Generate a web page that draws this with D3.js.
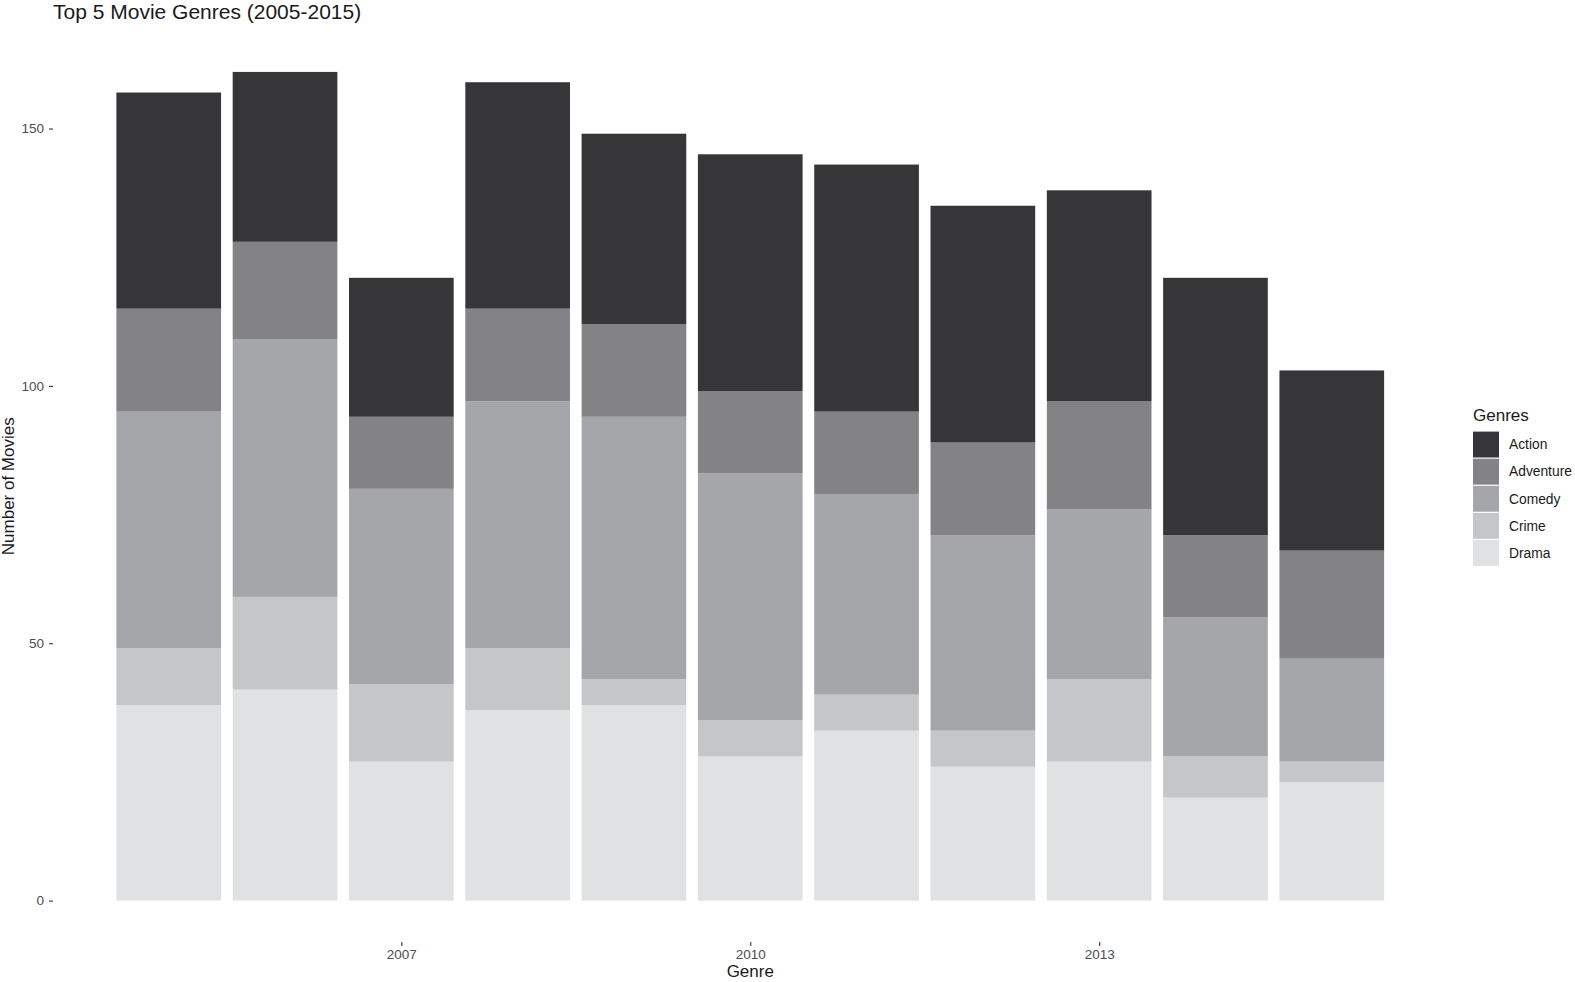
<!DOCTYPE html>
<html>
<head>
<meta charset="utf-8">
<script src="https://cdn.jsdelivr.net/npm/d3@7"></script>
<style>
  html, body { margin: 0; padding: 0; background: #fff; }
  svg { display: block; font-family: "Liberation Sans", Arial, Helvetica, sans-serif; }
</style>
</head>
<body>
<svg id="chart" width="1575" height="982"></svg>
<script>
// ---- data ----
const years = [2005, 2006, 2007, 2008, 2009, 2010, 2011, 2012, 2013, 2014, 2015];
const genres = ["Action", "Adventure", "Comedy", "Crime", "Drama"];
const drama     = [38, 41, 27, 37, 38, 28, 33, 26, 27, 20, 23];
const crime     = [11, 18, 15, 12,  5,  7,  7,  7, 16,  8,  4];
const comedy    = [46, 50, 38, 48, 51, 48, 39, 38, 33, 27, 20];
const adventure = [20, 19, 14, 18, 18, 16, 16, 18, 21, 16, 21];
const action    = [42, 33, 27, 44, 37, 46, 48, 46, 41, 50, 35];
const xTicks = [2007, 2010, 2013];
const yTicks = [0, 50, 100, 150];
const colors = ["#363537", "#838386", "#a5a6a9", "#c5c6c8", "#e0e1e3"];

// ---- build table ----
const table = years.map((y, i) => ({
  year: y, Action: action[i], Adventure: adventure[i], Comedy: comedy[i], Crime: crime[i], Drama: drama[i]
}));
// stack order: Drama at bottom, Action on top
const stackKeys = ["Drama", "Crime", "Comedy", "Adventure", "Action"];
const series = d3.stack().keys(stackKeys)(table);

const svg = d3.select("#chart");
const color = d3.scaleOrdinal().domain(genres).range(colors);

// panel geometry (ggplot-like expansion)
const panelLeft = 53, panelRight = 1447.5, panelTop = 30.5, panelBottom = 942;
const maxTotal = d3.max(table, d => d3.sum(stackKeys, k => d[k]));
const xMin = d3.min(years) - 0.45, xMax = d3.max(years) + 0.45;
const xExp = (xMax - xMin) * 0.05;
const x = d3.scaleLinear().domain([xMin - xExp, xMax + xExp]).range([panelLeft, panelRight]);
const yExp = maxTotal * 0.05;
const y = d3.scaleLinear().domain([-yExp, maxTotal + yExp]).range([panelBottom, panelTop]);
const barW = x(2005.9) - x(2005);

// bars
svg.append("g").selectAll("g").data(series).join("g")
  .attr("fill", s => color(s.key))
  .selectAll("rect").data(s => s).join("rect")
  .attr("x", d => x(d.data.year) - barW / 2)
  .attr("width", barW)
  .attr("y", d => y(d[1]))
  .attr("height", d => y(d[0]) - y(d[1]));

// y axis
const yAxis = svg.append("g").attr("transform", `translate(${panelLeft},0)`)
  .call(d3.axisLeft(y).tickValues(yTicks).tickSize(4).tickPadding(5).tickFormat(d3.format("d")));
yAxis.select(".domain").remove();
yAxis.selectAll("line").attr("stroke", "#333").attr("stroke-width", 1.1);
yAxis.selectAll("text").attr("fill", "#4d4d4d").style("font-size", "13.5px")
  .style("font-family", "'Liberation Sans', Arial, sans-serif");

// x axis
const xAxis = svg.append("g").attr("transform", `translate(0,${panelBottom})`)
  .call(d3.axisBottom(x).tickValues(xTicks).tickSize(4).tickPadding(3).tickFormat(d3.format("d")));
xAxis.select(".domain").remove();
xAxis.selectAll("line").attr("stroke", "#333").attr("stroke-width", 1.1);
xAxis.selectAll("text").attr("fill", "#4d4d4d").style("font-size", "13.5px")
  .style("font-family", "'Liberation Sans', Arial, sans-serif");

// titles
svg.append("text").attr("x", 53).attr("y", 19)
  .attr("fill", "#1a1a1a").style("font-size", "21px")
  .text("Top 5 Movie Genres (2005-2015)");
svg.append("text").attr("x", (panelLeft + panelRight) / 2).attr("y", 977)
  .attr("text-anchor", "middle").attr("fill", "#1a1a1a").style("font-size", "17px")
  .text("Genre");
svg.append("text")
  .attr("transform", `translate(14,${(panelTop + panelBottom) / 2}) rotate(-90)`)
  .attr("text-anchor", "middle").attr("fill", "#1a1a1a").style("font-size", "17px")
  .text("Number of Movies");

// legend
const lg = svg.append("g").attr("transform", "translate(1473,0)");
lg.append("text").attr("x", 0).attr("y", 420.5).attr("fill", "#1a1a1a")
  .style("font-size", "17px").text("Genres");
const keyH = 27.1, keyTop = 431;
const items = lg.selectAll("g.item").data(genres).join("g")
  .attr("class", "item")
  .attr("transform", (d, i) => `translate(0,${keyTop + i * keyH})`);
items.append("rect").attr("x", 0).attr("y", 0.6).attr("width", 26).attr("height", keyH - 1.2)
  .attr("fill", d => color(d));
items.append("text").attr("x", 36).attr("y", keyH / 2).attr("dy", "0.35em")
  .attr("fill", "#1a1a1a").style("font-size", "13.8px").text(d => d);
</script>
</body>
</html>
